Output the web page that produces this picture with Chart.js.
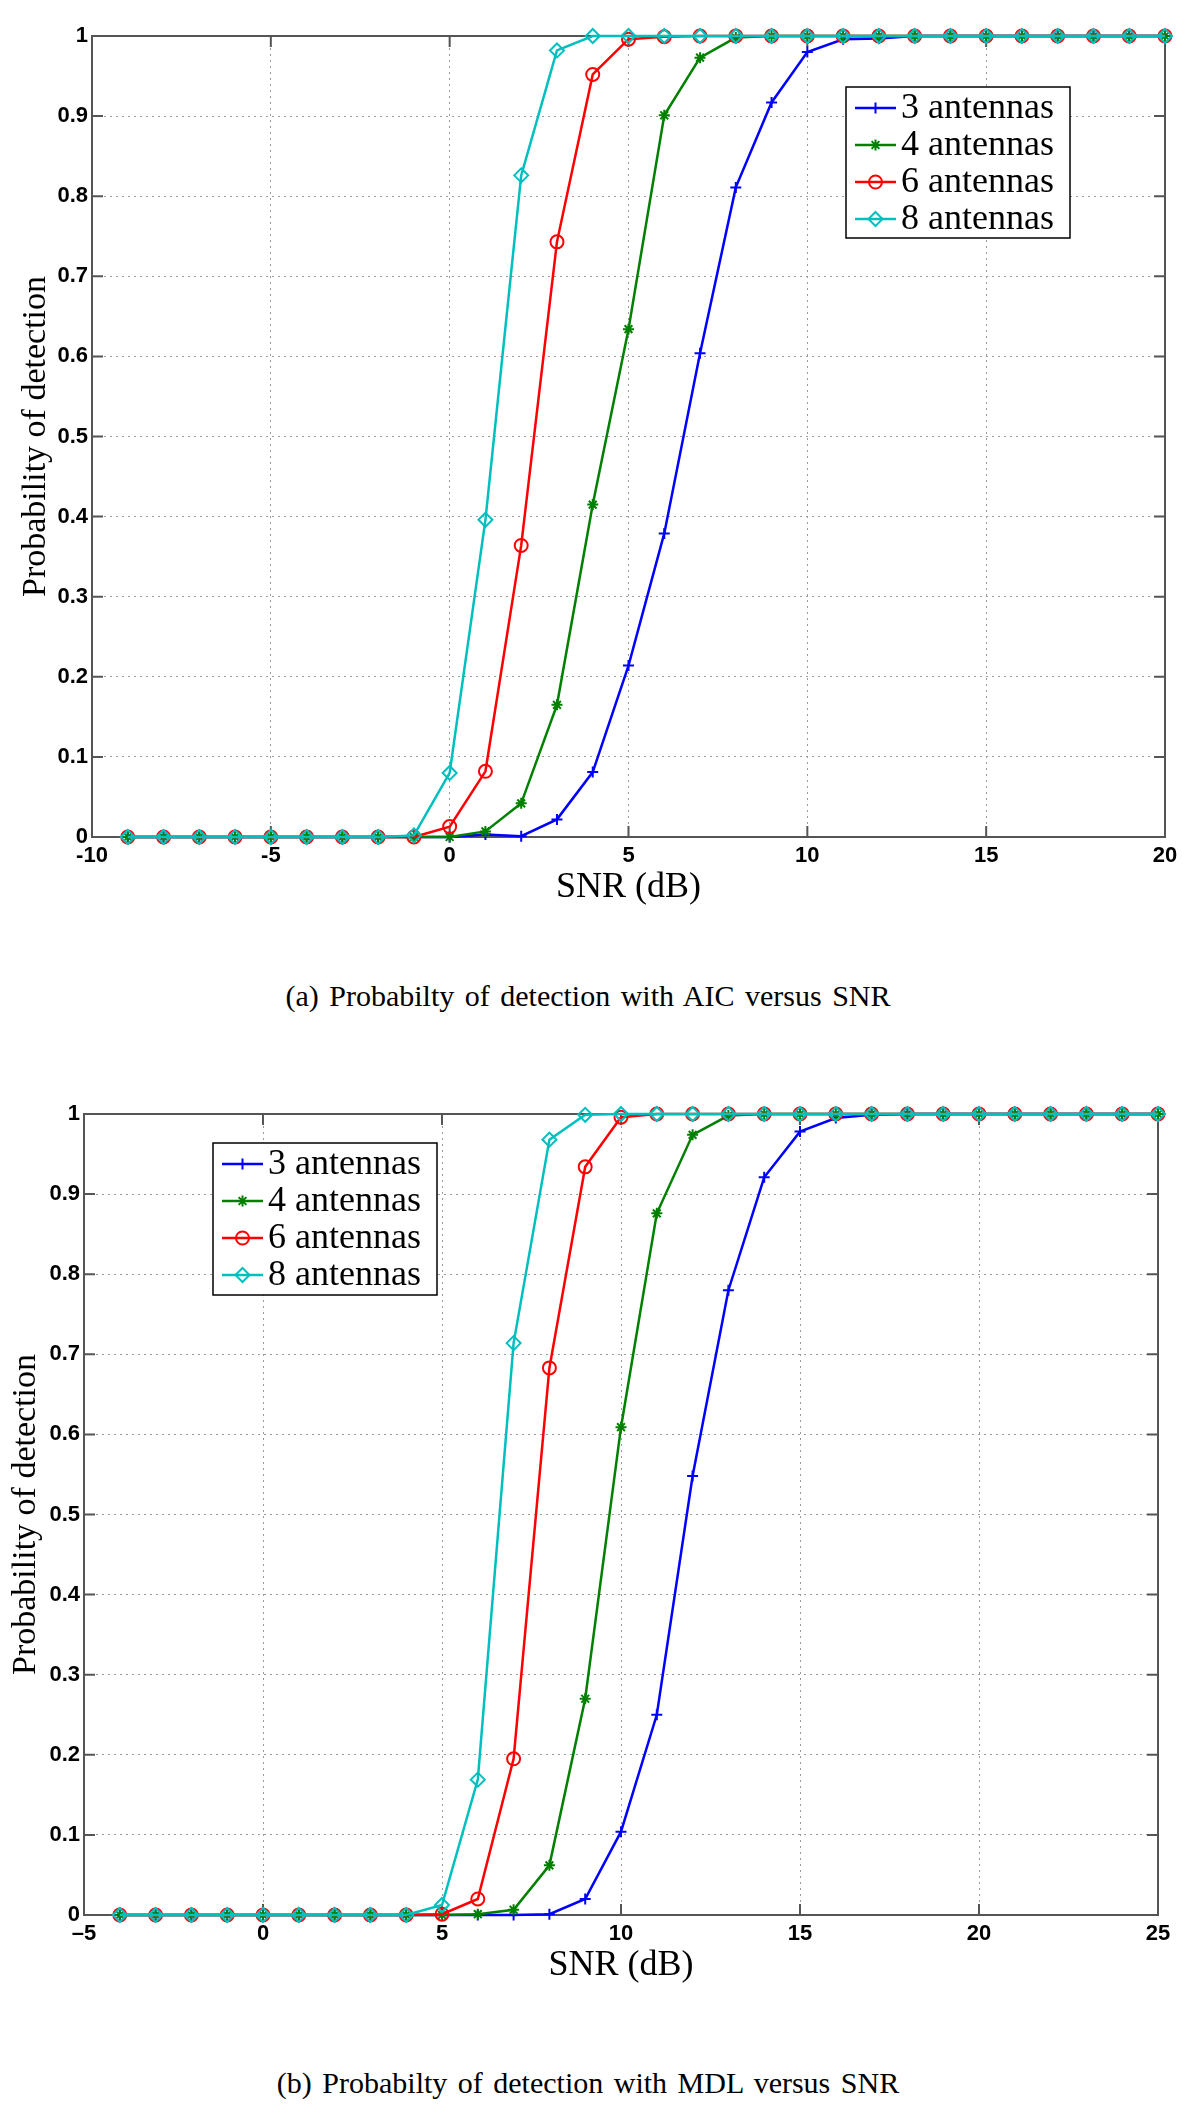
<!DOCTYPE html>
<html>
<head>
<meta charset="utf-8">
<script src="https://cdn.jsdelivr.net/npm/chart.js@4.4.0/dist/chart.umd.min.js"></script>
<style>
    body { margin: 0; background: #fff; width: 1200px; height: 2116px; position: relative; overflow: hidden; }
    canvas { position: absolute; left: 0; }
    #aicChart { top: 0; }
    #mdlChart { top: 1040px; }
    .caption {
        position: absolute; left: 0; width: 1176px; text-align: center;
        font-family: 'Liberation Serif', serif; font-size: 30px; line-height: 30px;
        word-spacing: 3px; color: #000;
    }
</style>
</head>
<body>
<canvas id="aicChart" width="1200" height="940"></canvas>
<div class="caption" style="top: 981px">(a) Probabilty of detection with AIC versus SNR</div>
<canvas id="mdlChart" width="1200" height="960"></canvas>
<div class="caption" style="top: 2068px">(b) Probabilty of detection with MDL versus SNR</div>
<script>
// (a) AIC
const snrAic = [-9, -8, -7, -6, -5, -4, -3, -2, -1, 0, 1, 2, 3, 4, 5, 6, 7, 8, 9, 10, 11, 12, 13, 14, 15, 16, 17, 18, 19, 20];
const aic3 = [0, 0, 0, 0, 0, 0, 0, 0, 0, 0, 0.003, 0.001, 0.022, 0.081, 0.214, 0.379, 0.604, 0.811, 0.917, 0.980, 0.996, 0.997, 1, 1, 1, 1, 1, 1, 1, 1];
const aic4 = [0, 0, 0, 0, 0, 0, 0, 0, 0, 0, 0.007, 0.042, 0.165, 0.415, 0.634, 0.901, 0.973, 0.998, 1, 1, 1, 1, 1, 1, 1, 1, 1, 1, 1, 1];
const aic6 = [0, 0, 0, 0, 0, 0, 0, 0, 0, 0.013, 0.082, 0.364, 0.743, 0.952, 0.996, 0.999, 1, 1, 1, 1, 1, 1, 1, 1, 1, 1, 1, 1, 1, 1];
const aic8 = [0, 0, 0, 0, 0, 0, 0, 0, 0.002, 0.080, 0.396, 0.826, 0.982, 1, 1, 1, 1, 1, 1, 1, 1, 1, 1, 1, 1, 1, 1, 1, 1, 1];

// (b) MDL
const snrMdl = [-4, -3, -2, -1, 0, 1, 2, 3, 4, 5, 6, 7, 8, 9, 10, 11, 12, 13, 14, 15, 16, 17, 18, 19, 20, 21, 22, 23, 24, 25];
const mdl3 = [0, 0, 0, 0, 0, 0, 0, 0, 0, 0, 0, 0, 0.001, 0.020, 0.104, 0.250, 0.548, 0.780, 0.921, 0.978, 0.995, 0.999, 1, 1, 1, 1, 1, 1, 1, 1];
const mdl4 = [0, 0, 0, 0, 0, 0, 0, 0, 0, 0, 0.001, 0.0065, 0.062, 0.270, 0.609, 0.876, 0.974, 0.998, 1, 1, 1, 1, 1, 1, 1, 1, 1, 1, 1, 1];
const mdl6 = [0, 0, 0, 0, 0, 0, 0, 0, 0, 0.001, 0.020, 0.195, 0.683, 0.934, 0.996, 1, 1, 1, 1, 1, 1, 1, 1, 1, 1, 1, 1, 1, 1, 1];
const mdl8 = [0, 0, 0, 0, 0, 0, 0, 0, 0, 0.0125, 0.169, 0.714, 0.968, 0.999, 1, 1, 1, 1, 1, 1, 1, 1, 1, 1, 1, 1, 1, 1, 1, 1];

const seriesNames = ['3 antennas', '4 antennas', '6 antennas', '8 antennas'];
const aicTicks = [-10, -5, 0, 5, 10, 15, 20];
const mdlTicks = [-5, 0, 5, 10, 15, 20, 25];
const probTicks = [0, 0.1, 0.2, 0.3, 0.4, 0.5, 0.6, 0.7, 0.8, 0.9, 1];

const colors = ['#0000ff', '#008000', '#ff0000', '#00bfbf'];
const markers = [
    { style: 'cross', radius: 5.5 },
    { style: 'star', radius: 5.5 },
    { style: 'circle', radius: 6.5 },
    { style: 'rectRot', radius: 7 }
];

const serif = "'Liberation Serif', 'Times New Roman', serif";
const sans = "'Liberation Sans', Arial, sans-serif";

// box around the plot with MATLAB style inward ticks
const axesBox = {
    id: 'axesBox',
    beforeDatasetsDraw(chart) {
        const { ctx, chartArea: a, scales: { x, y } } = chart;
        ctx.save();
        ctx.strokeStyle = '#555';
        ctx.lineWidth = 2;
        ctx.strokeRect(a.left, a.top, a.width, a.height);
        ctx.beginPath();
        x.ticks.forEach(t => {
            const px = x.getPixelForValue(t.value);
            ctx.moveTo(px, a.bottom); ctx.lineTo(px, a.bottom - 11);
            ctx.moveTo(px, a.top); ctx.lineTo(px, a.top + 11);
        });
        y.ticks.forEach(t => {
            const py = y.getPixelForValue(t.value);
            ctx.moveTo(a.left, py); ctx.lineTo(a.left + 11, py);
            ctx.moveTo(a.right, py); ctx.lineTo(a.right - 11, py);
        });
        ctx.stroke();
        ctx.restore();
    }
};

// legend drawn inside the plot, boxed
const boxLegend = {
    id: 'boxLegend',
    afterDraw(chart, args, opts) {
        const { ctx, chartArea: a } = chart;
        const bx = opts.x >= 0 ? a.left + opts.x : a.right + opts.x - opts.width;
        const by = a.top + opts.y;
        ctx.save();
        ctx.fillStyle = '#fff';
        ctx.fillRect(bx, by, opts.width, opts.height);
        ctx.strokeStyle = '#000';
        ctx.lineWidth = 1.5;
        ctx.strokeRect(bx, by, opts.width, opts.height);
        ctx.font = '36px ' + serif;
        ctx.textBaseline = 'middle';
        chart.data.datasets.forEach((ds, i) => {
            const cy = by + 21 + i * 37;
            ctx.strokeStyle = ds.borderColor;
            ctx.lineWidth = ds.borderWidth;
            ctx.beginPath();
            ctx.moveTo(bx + 9, cy);
            ctx.lineTo(bx + 50, cy);
            ctx.stroke();
            ctx.fillStyle = 'rgba(0,0,0,0)';
            ctx.lineWidth = ds.pointBorderWidth;
            Chart.helpers.drawPoint(ctx, {
                pointStyle: ds.pointStyle, radius: ds.pointRadius,
                borderWidth: ds.pointBorderWidth, rotation: 0
            }, bx + 29.5, cy);
            ctx.fillStyle = '#000';
            ctx.fillText(ds.label, bx + 55, cy + 1);
        });
        ctx.restore();
    }
};

function makeChart(id, snr, series, xTicks, minus, layout, yTitlePad, legendPos) {
    const datasets = series.map((vals, i) => ({
        label: seriesNames[i],
        data: snr.map((s, k) => ({ x: s, y: vals[k] })),
        borderColor: colors[i],
        borderWidth: 2.5,
        pointStyle: markers[i].style,
        pointRadius: markers[i].radius,
        pointBorderWidth: 2,
        pointBorderColor: colors[i],
        pointBackgroundColor: 'rgba(0,0,0,0)',
        tension: 0,
        clip: false,
        order: 3 - i
    }));

    const tickFont = { family: sans, size: 22, weight: 'bold' };

    return new Chart(document.getElementById(id), {
        type: 'line',
        data: { datasets: datasets },
        options: {
            responsive: false,
            animation: false,
            events: [],
            layout: { padding: layout.padding },
            plugins: {
                legend: { display: false },
                tooltip: { enabled: false },
                boxLegend: legendPos
            },
            scales: {
                x: {
                    type: 'linear',
                    min: xTicks[0],
                    max: xTicks[xTicks.length - 1],
                    afterBuildTicks: s => { s.ticks = xTicks.map(v => ({ value: v })); },
                    afterFit: s => { s.height = 72; },
                    grid: { color: '#9a9a9a', lineWidth: 1, drawTicks: false },
                    border: { display: false, dash: [2, 4] },
                    ticks: {
                        color: '#000',
                        font: tickFont,
                        padding: 6,
                        autoSkip: false,
                        maxRotation: 0,
                        callback: v => (v < 0 ? minus + Math.abs(v) : String(v))
                    },
                    title: {
                        display: true,
                        text: 'SNR (dB)',
                        color: '#000',
                        font: { family: serif, size: 36 },
                        padding: { top: 0, bottom: 0 }
                    }
                },
                y: {
                    min: 0,
                    max: 1,
                    afterBuildTicks: s => { s.ticks = probTicks.map(v => ({ value: v })); },
                    afterFit: s => { s.width = layout.yWidth; },
                    grid: { color: '#9a9a9a', lineWidth: 1, drawTicks: false },
                    border: { display: false, dash: [2, 4] },
                    ticks: {
                        color: '#000',
                        font: tickFont,
                        padding: 4,
                        autoSkip: false,
                        callback: v => String(v)
                    },
                    title: {
                        display: true,
                        text: 'Probability of detection',
                        color: '#000',
                        font: { family: serif, size: 34 },
                        padding: { top: yTitlePad, bottom: 0 }
                    }
                }
            }
        },
        plugins: [axesBox, boxLegend]
    });
}

function drawAll() {
    makeChart('aicChart', snrAic, [aic3, aic4, aic6, aic8], aicTicks, '-',
        { padding: { top: 36, left: 0, right: 35, bottom: 31 }, yWidth: 92 }, 16,
        { x: -95, y: 51, width: 224, height: 151 });

    makeChart('mdlChart', snrMdl, [mdl3, mdl4, mdl6, mdl8], mdlTicks, '\u2013',
        { padding: { top: 74, left: 0, right: 42, bottom: 13 }, yWidth: 84 }, 6,
        { x: 129, y: 29, width: 224, height: 152 });
}

document.addEventListener('DOMContentLoaded', function() {
    Promise.all([
        document.fonts.load("36px 'Liberation Serif'"),
        document.fonts.load("bold 22px 'Liberation Sans'")
    ]).then(drawAll, drawAll);
});
</script>
</body>
</html>
